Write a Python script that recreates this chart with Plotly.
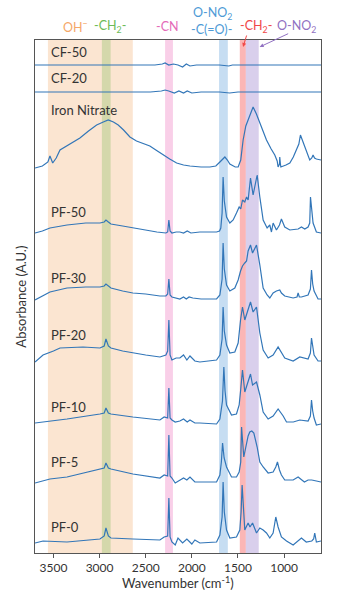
import plotly.graph_objects as go

# ---- FTIR spectra (wavenumber in cm^-1, absorbance above each baseline, A.U.) ----
cf50_wn = [3700, 3000, 2400, 2320, 2290, 2250, 2200, 2150, 2100, 2060, 2020, 1950, 1700, 1600, 1560, 1450, 1000, 600]
cf50_ab = [0.00, 0.00, 0.00, 0.01, 0.02, 0.00, 0.01, 0.00, -0.02, 0.01, -0.01, 0.00, 0.00, -0.01, 0.00, 0.00, 0.00, 0.00]

cf20_wn = [3700, 3000, 2450, 2330, 2290, 2250, 2190, 2140, 2090, 2050, 2000, 1900, 1700, 1590, 1500, 1000, 600]
cf20_ab = [0.00, 0.00, 0.00, 0.01, 0.02, 0.01, -0.01, 0.01, -0.01, 0.01, -0.01, 0.00, 0.00, -0.01, 0.00, 0.00, 0.00]

iron_wn = [3700, 3620, 3560, 3538, 3508, 3470, 3429, 3375, 3300, 3213, 3120, 3032, 2960, 2906, 2850, 2798,
           2740, 2671, 2600, 2540, 2455, 2390, 2310, 2240, 2165, 2090, 2021, 1900, 1805, 1740, 1696, 1660,
           1642, 1615, 1588, 1530, 1498, 1470, 1444, 1415, 1390, 1360, 1336, 1300, 1263, 1225, 1191, 1140,
           1101, 1075, 1065, 1050, 1047, 1040, 1035, 980, 938, 900, 866, 840, 823, 810, 794, 758, 722,
           700, 686, 670, 650, 600]
iron_ab = [0.00, 0.02, 0.06, 0.12, 0.05, 0.10, 0.18, 0.21, 0.25, 0.30, 0.37, 0.43, 0.46, 0.48, 0.46, 0.43,
           0.38, 0.31, 0.27, 0.25, 0.22, 0.18, 0.13, 0.09, 0.05, 0.03, 0.02, 0.01, 0.01, 0.02, 0.06, 0.10,
           0.11, 0.08, 0.04, 0.01, 0.01, 0.08, 0.28, 0.42, 0.48, 0.56, 0.61, 0.54, 0.45, 0.35, 0.28, 0.19,
           0.13, 0.07, 0.01, 0.04, 0.11, 0.04, 0.01, 0.03, 0.05, 0.11, 0.18, 0.24, 0.33, 0.30, 0.26, 0.18, 0.08,
           0.10, 0.13, 0.10, 0.09, 0.08]

pf50_wn = [3700, 3620, 3538, 3353, 3150, 2996, 2950, 2931, 2905, 2877, 2750, 2639, 2500, 2379, 2281, 2262,
           2249, 2236, 2216, 2170, 2130, 2090, 2050, 2010, 1913, 1732, 1700, 1686, 1672, 1661, 1648, 1624,
           1588, 1552, 1516, 1487, 1470, 1451, 1426, 1407, 1390, 1364, 1336, 1292, 1263, 1227, 1184, 1155,
           1137, 1119, 1083, 1050, 1029, 993, 938, 848, 812, 776, 740, 722, 714, 700, 686, 650, 600]
pf50_ab = [0.00, 0.02, 0.05, 0.08, 0.10, 0.10, 0.11, 0.13, 0.11, 0.09, 0.07, 0.05, 0.03, 0.01, 0.00, 0.01,
           0.13, 0.02, 0.00, 0.01, 0.01, 0.00, 0.02, 0.00, 0.01, 0.01, 0.02, 0.05, 0.20, 0.56, 0.32, 0.16,
           0.10, 0.13, 0.20, 0.26, 0.24, 0.33, 0.31, 0.36, 0.33, 0.55, 0.38, 0.58, 0.36, 0.13, 0.05, 0.08,
           0.01, 0.10, 0.03, 0.08, 0.14, 0.06, 0.03, 0.04, 0.06, 0.04, 0.06, 0.10, 0.36, 0.20, 0.10, 0.01, 0.00]

pf30_wn = [3700, 3620, 3538, 3353, 3150, 2996, 2950, 2931, 2905, 2877, 2750, 2639, 2500, 2346, 2281, 2262,
           2249, 2236, 2216, 2170, 2130, 2090, 2060, 2030, 1989, 1900, 1732, 1696, 1672, 1661, 1648, 1624,
           1588, 1534, 1498, 1472, 1451, 1426, 1407, 1390, 1364, 1342, 1299, 1263, 1227, 1184, 1155, 1119,
           1083, 1047, 1029, 993, 902, 860, 848, 835, 812, 740, 715, 703, 690, 675, 632, 600]
pf30_ab = [-0.01, 0.03, 0.07, 0.11, 0.12, 0.12, 0.13, 0.15, 0.13, 0.11, 0.08, 0.06, 0.05, 0.03, 0.03, 0.05,
           0.20, 0.04, 0.02, 0.01, 0.00, 0.02, 0.00, 0.02, 0.01, 0.00, 0.00, 0.04, 0.20, 0.56, 0.30, 0.14,
           0.08, 0.11, 0.19, 0.28, 0.33, 0.36, 0.38, 0.48, 0.54, 0.46, 0.54, 0.34, 0.11, 0.04, 0.01, 0.06,
           0.08, 0.09, 0.06, 0.03, 0.01, 0.02, 0.06, 0.02, 0.02, 0.04, 0.10, 0.29, 0.15, 0.08, 0.00, 0.00]

pf20_wn = [3700, 3613, 3500, 3429, 3180, 2996, 2950, 2931, 2905, 2877, 2750, 2639, 2500, 2346, 2281, 2262,
           2249, 2236, 2216, 2170, 2130, 2090, 2054, 2020, 1967, 1913, 1732, 1696, 1672, 1661, 1648, 1624,
           1588, 1534, 1498, 1472, 1451, 1426, 1390, 1364, 1336, 1299, 1263, 1227, 1173, 1119, 1065, 1029,
           993, 902, 830, 740, 715, 703, 690, 675, 632, 600]
pf20_ab = [-0.01, 0.06, 0.10, 0.13, 0.14, 0.13, 0.15, 0.22, 0.15, 0.13, 0.10, 0.08, 0.06, 0.04, 0.06, 0.10,
           0.41, 0.06, 0.01, 0.03, 0.03, 0.06, 0.01, 0.05, 0.00, -0.01, 0.01, 0.06, 0.22, 0.54, 0.30, 0.16,
           0.08, 0.09, 0.18, 0.41, 0.54, 0.41, 0.51, 0.59, 0.49, 0.54, 0.28, 0.11, 0.03, 0.06, 0.14, 0.09,
           0.03, 0.00, 0.04, 0.02, 0.08, 0.23, 0.12, 0.06, 0.00, 0.00]

pf10_wn = [3700, 3353, 2996, 2950, 2931, 2905, 2877, 2750, 2639, 2346, 2300, 2262, 2249, 2236, 2216, 2180,
           2130, 2090, 2050, 2020, 1967, 1913, 1732, 1696, 1668, 1653, 1640, 1624, 1570, 1516, 1487, 1470,
           1451, 1426, 1390, 1364, 1342, 1299, 1263, 1227, 1173, 1119, 1065, 1010, 974, 900, 830, 740,
           715, 703, 690, 675, 650, 600]
pf10_ab = [0.00, 0.04, 0.09, 0.10, 0.15, 0.10, 0.09, 0.07, 0.06, 0.03, 0.06, 0.05, 0.35, 0.05, 0.03, 0.01,
           0.02, 0.04, 0.01, 0.03, 0.00, 0.00, -0.01, 0.04, 0.22, 0.56, 0.32, 0.18, 0.08, 0.09, 0.18, 0.34,
           0.53, 0.31, 0.41, 0.49, 0.38, 0.41, 0.28, 0.11, 0.04, 0.07, 0.14, 0.07, 0.01, 0.01, 0.03, 0.02,
           0.07, 0.23, 0.12, 0.05, -0.02, -0.01]

pf5_wn = [3700, 3538, 3353, 2996, 2950, 2931, 2905, 2877, 2750, 2639, 2346, 2300, 2262, 2249, 2236, 2216,
          2180, 2130, 2090, 2054, 2020, 1967, 1913, 1732, 1696, 1680, 1667, 1650, 1624, 1570, 1516, 1487,
          1470, 1461, 1437, 1407, 1390, 1372, 1350, 1328, 1292, 1263, 1227, 1173, 1119, 1090, 1072, 1050,
          1029, 993, 902, 848, 780, 740, 700, 650, 600]
pf5_ab = [-0.01, 0.03, 0.05, 0.13, 0.14, 0.19, 0.14, 0.13, 0.10, 0.08, 0.04, 0.07, 0.06, 0.47, 0.06, 0.04,
          -0.01, 0.02, 0.04, 0.02, 0.05, 0.00, 0.00, 0.00, 0.07, 0.20, 0.39, 0.24, 0.15, 0.05, 0.05, 0.10,
          0.20, 0.55, 0.25, 0.39, 0.46, 0.50, 0.51, 0.49, 0.35, 0.20, 0.15, 0.09, 0.10, 0.15, 0.20, 0.12,
          0.07, 0.02, 0.02, 0.05, 0.00, 0.02, 0.02, 0.01, 0.00]

pf0_wn = [3700, 3613, 3353, 2996, 2950, 2931, 2905, 2877, 2639, 2346, 2300, 2262, 2249, 2236, 2216, 2180,
          2150, 2100, 2054, 2000, 1967, 1913, 1732, 1696, 1672, 1661, 1648, 1624, 1588, 1516, 1480, 1466,
          1455, 1442, 1426, 1390, 1370, 1342, 1299, 1263, 1227, 1191, 1155, 1119, 1100, 1090, 1065, 1029,
          974, 902, 812, 760, 700, 680, 668, 650, 600]
pf0_ab = [-0.01, 0.01, 0.00, 0.03, 0.06, 0.14, 0.06, 0.04, 0.03, 0.02, 0.05, 0.06, 0.44, 0.05, 0.00, -0.03,
          0.04, -0.01, 0.03, -0.02, 0.02, -0.01, 0.00, 0.07, 0.25, 0.60, 0.30, 0.12, 0.04, 0.05, 0.12, 0.30,
          0.57, 0.30, 0.12, 0.19, 0.15, 0.19, 0.09, 0.14, 0.12, 0.09, 0.04, 0.09, 0.20, 0.25, 0.15, 0.05,
          0.01, -0.03, 0.04, 0.00, 0.01, 0.03, 0.09, 0.00, 0.01]

sample_names = ["CF-50", "CF-20", "Iron Nitrate", "PF-50", "PF-30", "PF-20", "PF-10", "PF-5", "PF-0"]
spectra_wn = [cf50_wn, cf20_wn, iron_wn, pf50_wn, pf30_wn, pf20_wn, pf10_wn, pf5_wn, pf0_wn]
spectra_ab = [cf50_ab, cf20_ab, iron_ab, pf50_ab, pf30_ab, pf20_ab, pf10_ab, pf5_ab, pf0_ab]
# vertical stacking offsets of the spectra (A.U.)
stack_offsets = [4.88, 4.61, 3.85, 3.20, 2.54, 1.92, 1.30, 0.71, 0.11]
# height of each sample label above its baseline (A.U.)
label_lift = [0.13, 0.14, 0.58, 0.21, 0.21, 0.26, 0.16, 0.20, 0.15]

# assignment bands: (low, high) wavenumber, fill colour
bands = [
    (2640, 3560, "rgba(246,190,140,0.40)"),   # OH-
    (2880, 2975, "rgba(150,195,110,0.38)"),   # -CH2-
    (2205, 2290, "rgba(240,140,200,0.42)"),   # -CN
    (1610, 1705, "rgba(120,175,225,0.42)"),   # O-NO2 / -C(=O)-
    (1415, 1480, "rgba(248,110,110,0.50)"),   # -CH2-
    (1275, 1415, "rgba(165,140,210,0.42)"),   # O-NO2
]

LINE_BLUE = "#3276B8"
FONT = "Lato"

fig = go.Figure()

for name, wn, ab, off in zip(sample_names, spectra_wn, spectra_ab, stack_offsets):
    fig.add_trace(go.Scatter(
        x=wn, y=[off + a for a in ab], mode="lines", name=name,
        line=dict(color=LINE_BLUE, width=1.2), showlegend=False, hoverinfo="skip"))

for lo, hi, col in bands:
    fig.add_shape(type="rect", xref="x", yref="paper", x0=lo, x1=hi, y0=0, y1=1,
                  fillcolor=col, line=dict(width=0), layer="below")

annotations = []
for name, off, lift in zip(sample_names, stack_offsets, label_lift):
    annotations.append(dict(x=3545, y=off + lift, xref="x", yref="y", text=name,
                            showarrow=False, xanchor="left", yanchor="middle",
                            font=dict(family=FONT, size=13, color="#333333")))

# band assignment headers above the plot
headers = [
    (3256, 27, "OH<sup>−</sup>", "#F5A768"),
    (2888, 27, "-CH<sub>2</sub>-", "#6DBB57"),
    (2260, 27, "-CN", "#E46AB8"),
    (1772, 14, "O-NO<sub>2</sub>", "#4E9AD6"),
    (1788, 29, "-C(=O)-", "#4E9AD6"),
    (1300, 27, "-CH<sub>2</sub>-", "#F04848"),
    (863, 27, "O-NO<sub>2</sub>", "#9171C2"),
]
plot_top, plot_h = 40, 513
for wn, ypx, txt, col in headers:
    annotations.append(dict(x=wn, y=(plot_top + plot_h - ypx) / plot_h, xref="x", yref="paper",
                            text=txt, showarrow=False, xanchor="center", yanchor="middle",
                            font=dict(family=FONT, size=12.5, color=col)))

# pointer arrows for the two narrow bands
annotations.append(dict(x=1445, y=(plot_top + plot_h - 47) / plot_h, xref="x", yref="paper",
                        text="", showarrow=True, arrowhead=2, arrowsize=0.8, arrowwidth=1,
                        arrowcolor="#F04848", ax=4, ay=-13))
annotations.append(dict(x=1265, y=(plot_top + plot_h - 47) / plot_h, xref="x", yref="paper",
                        text="", showarrow=True, arrowhead=2, arrowsize=0.8, arrowwidth=1,
                        arrowcolor="#9171C2", ax=30, ay=-14))

annotations.append(dict(x=-0.052, y=0.5, xref="paper", yref="paper", text="Absorbance (A.U.)",
                        textangle=-90, showarrow=False, xanchor="center", yanchor="middle",
                        font=dict(family=FONT, size=13, color="#333333")))
annotations.append(dict(x=0.5, y=-29 / plot_h, xref="paper", yref="paper",
                        text="Wavenumber (cm<sup>-1</sup>)", showarrow=False,
                        xanchor="center", yanchor="middle",
                        font=dict(family=FONT, size=13, color="#333333")))

fig.update_layout(
    width=347, height=603,
    margin=dict(l=35, r=26, t=40, b=50),
    paper_bgcolor="white", plot_bgcolor="white",
    annotations=annotations,
    xaxis=dict(range=[3700, 600], tickvals=[3500, 3000, 2500, 2000, 1500, 1000],
               ticks="outside", ticklen=4, tickcolor="#555555", showgrid=False, zeroline=False,
               showline=True, mirror=True, linecolor="#555555", linewidth=1,
               tickfont=dict(family=FONT, size=12, color="#333333")),
    yaxis=dict(range=[0, 5.13], showticklabels=False, ticks="", showgrid=False, zeroline=False,
               showline=True, mirror=True, linecolor="#555555", linewidth=1),
)

fig.write_html("out.html")
